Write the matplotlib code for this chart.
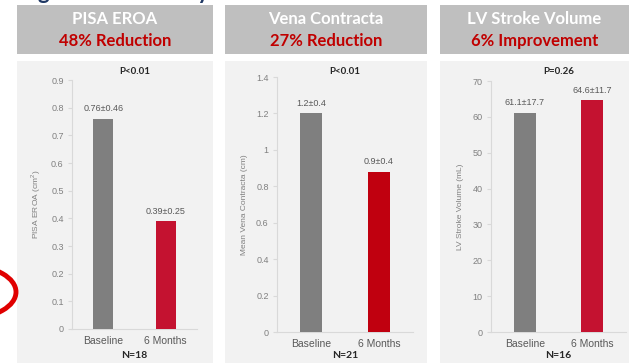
import matplotlib
matplotlib.use("Agg")
import matplotlib.pyplot as plt
from matplotlib.patches import Rectangle, Ellipse

W, H = 629, 363

# ---- data ----
categories = ["Baseline", "6 Months"]
titles = ["PISA EROA", "Vena Contracta", "LV Stroke Volume"]
subtitles = ["48% Reduction", "27% Reduction", "6% Improvement"]
pisa_values = [0.76, 0.39]
vena_values = [1.2, 0.88]
lvsv_values = [61.1, 64.6]
pisa_labels = ["0.76±0.46", "0.39±0.25"]
vena_labels = ["1.2±0.4", "0.9±0.4"]
lvsv_labels = ["61.1±17.7", "64.6±11.7"]
p_values = ["P<0.01", "P<0.01", "P=0.26"]
n_values = ["N=18", "N=21", "N=16"]
ylabels = ["PISA EROA (cm$^2$)", "Mean Vena Contracta (cm)", "LV Stroke Volume (mL)"]
yticks = [[0, 0.1, 0.2, 0.3, 0.4, 0.5, 0.6, 0.7, 0.8, 0.9],
          [0, 0.2, 0.4, 0.6, 0.8, 1, 1.2, 1.4],
          [0, 10, 20, 30, 40, 50, 60, 70]]
yticklabels = [["0", "0.1", "0.2", "0.3", "0.4", "0.5", "0.6", "0.7", "0.8", "0.9"],
               ["0", "0.2", "0.4", "0.6", "0.8", "1", "1.2", "1.4"],
               ["0", "10", "20", "30", "40", "50", "60", "70"]]

values = [pisa_values, vena_values, lvsv_values]
vlabels = [pisa_labels, vena_labels, lvsv_labels]
red_colors = ["#c41230", "#c0000f", "#c41230"]
gray = "#7f7f7f"

plt.rcParams["font.family"] = ["Liberation Sans", "DejaVu Sans"]
plt.rcParams["mathtext.fontset"] = "custom"
plt.rcParams["mathtext.rm"] = "Liberation Sans"

# ---- layout (pixels) ----
panels = [(17, 213), (225, 427), (440, 629)]
axes_box = [(72, 197, 80, 329), (277, 413, 77, 332), (491, 626, 81, 332)]

fig = plt.figure(figsize=(W / 100, H / 100), dpi=100)
fig.patch.set_facecolor("white")

def fx(x):
    return x / W

def fy(y):
    return 1 - y / H

font = "Lato"

# partially visible heading at the top
fig.text(fx(20), fy(-1), "Significant Efficacy", color="#1f3864", fontsize=16,
         fontweight="bold", family=font, ha="left", va="baseline")

for i, (x0, x1) in enumerate(panels):
    # header box
    fig.patches.append(Rectangle((fx(x0), fy(54)), fx(x1) - fx(x0), fy(5) - fy(54),
                                 transform=fig.transFigure, facecolor="#bfbfbf",
                                 edgecolor="none", zorder=-10))
    cx = fx((x0 + x1) / 2)
    fig.text(cx, fy(19), titles[i], color="white", fontsize=12, fontweight="bold",
             family=font, ha="center", va="center")
    fig.text(cx, fy(41), subtitles[i], color="#c00000", fontsize=12, fontweight="bold",
             family=font, ha="center", va="center")
    # panel background
    fig.patches.append(Rectangle((fx(x0), 0), fx(x1) - fx(x0), fy(61),
                                 transform=fig.transFigure, facecolor="#f2f2f2",
                                 edgecolor="none", zorder=-10))

    l, r, t, b = axes_box[i]
    ax = fig.add_axes([fx(l), fy(b), fx(r) - fx(l), fy(t) - fy(b)])
    ax.set_zorder(2)
    ax.set_facecolor("none")
    xs = list(range(len(categories)))
    ax.bar(xs, values[i], width=0.32, color=[gray, red_colors[i]], zorder=3)
    ax.set_xlim(-0.5, 1.5)
    ax.set_ylim(yticks[i][0], yticks[i][-1])
    ax.set_yticks(yticks[i])
    ax.set_yticklabels(yticklabels[i])
    ax.set_xticks(xs)
    ax.set_xticklabels(categories)
    for s in ["top", "right"]:
        ax.spines[s].set_visible(False)
    for s in ["left", "bottom"]:
        ax.spines[s].set_color("#d9d9d9")
        ax.spines[s].set_linewidth(0.8)
    ax.tick_params(axis="y", colors="#d9d9d9", labelcolor="#808080", labelsize=6.5,
                   length=3, width=0.8, pad=3)
    ax.tick_params(axis="x", length=0, labelcolor="#595959", labelsize=7.5, pad=5)
    ax.set_ylabel(ylabels[i], color="#808080", fontsize=6, labelpad=6)
    for xv, v, lab in zip(xs, values[i], vlabels[i]):
        ax.annotate(lab, (xv, v), xytext=(0, 4), textcoords="offset points",
                    ha="center", va="bottom", fontsize=6.5, color="#595959")
    pc = fx((l + r) / 2)
    fig.text(pc, fy(71), p_values[i], fontsize=7, fontweight="bold", color="#262626",
             family=font, ha="center", va="center")
    fig.text(pc, fy(356), n_values[i], fontsize=7.5, fontweight="bold", color="#262626",
             family=font, ha="center", va="center")

# red ellipse annotation at left edge
fig.patches.append(Ellipse((fx(-30), fy(292)), 2 * 46 / W, 2 * 26 / H,
                           transform=fig.transFigure, facecolor="none",
                           edgecolor="#e00000", linewidth=3.5, zorder=5))

fig.savefig("out.png", dpi=100, facecolor="white")
